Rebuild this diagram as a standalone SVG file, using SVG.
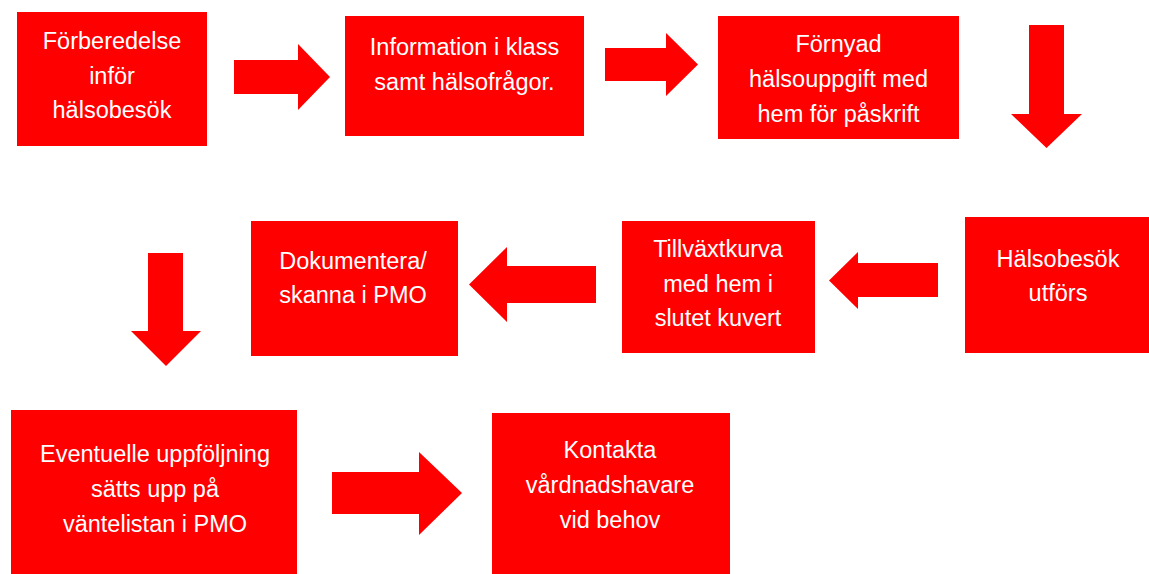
<svg xmlns="http://www.w3.org/2000/svg" width="1149" height="574" viewBox="0 0 1149 574">
  <style>
    .box { fill: #FF0000; }
    .arrow { fill: #FF0000; }
    .lbl { fill: #FFFFFF; font-family: "Liberation Sans", Arial, sans-serif; font-size: 23.5px; text-anchor: middle; }
  </style>
  <rect width="1149" height="574" fill="#FFFFFF"/>
  <g id="connectors">
    <polygon class="arrow" points="234,60 298,60 298,44 330,77 298,110 298,94 234,94"/>
    <polygon class="arrow" points="605,48 666,48 666,33 698,64.5 666,96 666,81 605,81"/>
    <polygon class="arrow" points="1029,25 1064,25 1064,114 1082,114 1046.5,148 1011,114 1029,114"/>
    <polygon class="arrow" points="938,263 858,263 858,252 829,280.5 858,309 858,297 938,297"/>
    <polygon class="arrow" points="596,266 507,266 507,247 469,284.5 507,322 507,303 596,303"/>
    <polygon class="arrow" points="148,253 183,253 183,331 201,331 166,366 131,331 148,331"/>
    <polygon class="arrow" points="332,472 419,472 419,452 462,493 419,535 419,514 332,514"/>
  </g>
  <g id="node-forberedelse">
    <rect class="box" x="17" y="12" width="190" height="134"/>
    <text class="lbl" x="112" y="49">Förberedelse</text>
    <text class="lbl" x="112" y="84">inför</text>
    <text class="lbl" x="112" y="118">hälsobesök</text>
  </g>
  <g id="node-information">
    <rect class="box" x="345" y="16" width="239" height="120"/>
    <text class="lbl" x="464.5" y="55">Information i klass</text>
    <text class="lbl" x="464.5" y="90">samt hälsofrågor.</text>
  </g>
  <g id="node-fornyad">
    <rect class="box" x="718" y="16" width="241" height="123"/>
    <text class="lbl" x="838.5" y="52">Förnyad</text>
    <text class="lbl" x="838.5" y="87">hälsouppgift med</text>
    <text class="lbl" x="838.5" y="122">hem för påskrift</text>
  </g>
  <g id="node-halsobesok">
    <rect class="box" x="965" y="217" width="184" height="136"/>
    <text class="lbl" x="1058" y="267">Hälsobesök</text>
    <text class="lbl" x="1058" y="301">utförs</text>
  </g>
  <g id="node-tillvaxtkurva">
    <rect class="box" x="622" y="221" width="193" height="132"/>
    <text class="lbl" x="718" y="257">Tillväxtkurva</text>
    <text class="lbl" x="718" y="292">med hem i</text>
    <text class="lbl" x="718" y="326">slutet kuvert</text>
  </g>
  <g id="node-dokumentera">
    <rect class="box" x="251" y="221" width="207" height="135"/>
    <text class="lbl" x="353" y="269">Dokumentera/</text>
    <text class="lbl" x="353" y="303">skanna i PMO</text>
  </g>
  <g id="node-eventuelle">
    <rect class="box" x="11" y="410" width="286" height="164"/>
    <text class="lbl" x="155" y="462">Eventuelle uppföljning</text>
    <text class="lbl" x="155" y="497">sätts upp på</text>
    <text class="lbl" x="155" y="532">väntelistan i PMO</text>
  </g>
  <g id="node-kontakta">
    <rect class="box" x="492" y="413" width="238" height="161"/>
    <text class="lbl" x="610" y="458">Kontakta</text>
    <text class="lbl" x="610" y="493">vårdnadshavare</text>
    <text class="lbl" x="610" y="528">vid behov</text>
  </g>
</svg>
